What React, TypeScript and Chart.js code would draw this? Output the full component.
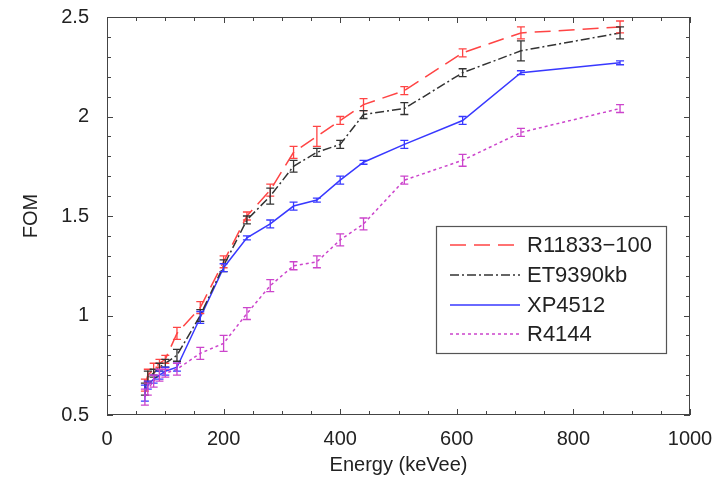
import React, { useEffect, useRef } from "react";
import { Chart, registerables } from "chart.js";

Chart.register(...registerables);

const energies = [65, 70, 80, 90, 100, 120, 160, 200, 240, 280, 320, 360, 400, 440, 510, 610, 710, 880];

const fomR11833 = [0.65, 0.70, 0.73, 0.76, 0.78, 0.91, 1.04, 1.27, 1.50, 1.63, 1.82, 1.90, 1.98, 2.06, 2.13, 2.32, 2.42, 2.45];
const errR11833 = [0.03, 0.03, 0.03, 0.02, 0.02, 0.03, 0.03, 0.03, 0.02, 0.03, 0.03, 0.05, 0.02, 0.03, 0.02, 0.02, 0.03, 0.03];

const fomET9390 = [0.63, 0.69, 0.71, 0.74, 0.76, 0.80, 1.00, 1.25, 1.48, 1.60, 1.75, 1.82, 1.86, 2.01, 2.04, 2.22, 2.33, 2.42];
const errET9390 = [0.03, 0.03, 0.02, 0.02, 0.02, 0.03, 0.03, 0.03, 0.02, 0.04, 0.03, 0.02, 0.02, 0.02, 0.03, 0.02, 0.05, 0.03];

const fomXP4512 = [0.61, 0.65, 0.68, 0.70, 0.72, 0.74, 0.99, 1.24, 1.39, 1.46, 1.55, 1.58, 1.68, 1.77, 1.86, 1.98, 2.22, 2.27];
const errXP4512 = [0.04, 0.02, 0.02, 0.02, 0.02, 0.02, 0.03, 0.02, 0.01, 0.02, 0.02, 0.01, 0.02, 0.01, 0.02, 0.02, 0.01, 0.01];

const fomR4144 = [0.59, 0.63, 0.67, 0.70, 0.71, 0.73, 0.81, 0.86, 1.01, 1.15, 1.25, 1.27, 1.38, 1.46, 1.68, 1.78, 1.92, 2.04];
const errR4144 = [0.04, 0.03, 0.03, 0.03, 0.02, 0.03, 0.03, 0.04, 0.03, 0.03, 0.02, 0.03, 0.03, 0.03, 0.02, 0.03, 0.02, 0.02];

const seriesNames = ["R11833−100", "ET9390kb", "XP4512", "R4144"];
const seriesColors = ["#ff4444", "#333333", "#3838ff", "#cc44cc"];
const seriesDashes = [[16, 8], [9, 3, 2, 3], [], [3, 3]];

const xTicks = [0, 200, 400, 600, 800, 1000];
const yTicks = [0.5, 1, 1.5, 2, 2.5];

const FONT = "'Liberation Sans', Arial, sans-serif";

const decorPlugin = {
  id: "decor",
  afterDatasetsDraw(chart: any) {
    const ctx = chart.ctx;
    const errs = [errR11833, errET9390, errXP4512, errR4144];
    const xs = chart.scales.x;
    const ys = chart.scales.y;
    chart.data.datasets.forEach((ds: any, di: number) => {
      ctx.save();
      ctx.strokeStyle = seriesColors[di];
      ctx.lineWidth = 1.3;
      ctx.setLineDash([]);
      ds.data.forEach((p: any, i: number) => {
        const px = xs.getPixelForValue(p.x);
        const y1 = ys.getPixelForValue(p.y - errs[di][i]);
        const y2 = ys.getPixelForValue(p.y + errs[di][i]);
        ctx.beginPath();
        ctx.moveTo(px, y1);
        ctx.lineTo(px, y2);
        ctx.moveTo(px - 4, y1);
        ctx.lineTo(px + 4, y1);
        ctx.moveTo(px - 4, y2);
        ctx.lineTo(px + 4, y2);
        ctx.stroke();
      });
      ctx.restore();
    });
  },
  afterDraw(chart: any) {
    const ctx = chart.ctx;
    const { left, right, top, bottom } = chart.chartArea;
    const xs = chart.scales.x;
    const ys = chart.scales.y;
    ctx.save();
    ctx.strokeStyle = "#444";
    ctx.lineWidth = 1;
    ctx.setLineDash([]);
    ctx.strokeRect(left + 0.5, top + 0.5, right - left - 1, bottom - top - 1);
    ctx.beginPath();
    for (let v = 0; v <= 1000; v += 50) {
      const px = Math.round(xs.getPixelForValue(v)) + 0.5;
      const len = v % 200 === 0 ? 6 : 4;
      ctx.moveTo(px, bottom);
      ctx.lineTo(px, bottom - len);
      ctx.moveTo(px, top);
      ctx.lineTo(px, top + len);
    }
    for (let k = 5; k <= 25; k++) {
      const v = k / 10;
      const py = Math.round(ys.getPixelForValue(v)) + 0.5;
      const len = k % 5 === 0 ? 6 : 4;
      ctx.moveTo(left, py);
      ctx.lineTo(left + len, py);
      ctx.moveTo(right, py);
      ctx.lineTo(right - len, py);
    }
    ctx.stroke();

    // legend box
    const bx = 436, by = 226, bw = 230, bh = 127;
    ctx.fillStyle = "#fff";
    ctx.fillRect(bx, by, bw, bh);
    ctx.strokeStyle = "#555";
    ctx.lineWidth = 1.2;
    ctx.strokeRect(bx + 0.5, by + 0.5, bw, bh);
    const rows = [245, 275, 305, 334];
    ctx.font = "22px " + FONT;
    ctx.textBaseline = "middle";
    ctx.textAlign = "left";
    seriesNames.forEach((name, i) => {
      ctx.strokeStyle = seriesColors[i];
      ctx.lineWidth = 1.5;
      ctx.setLineDash(seriesDashes[i]);
      ctx.beginPath();
      ctx.moveTo(450, rows[i]);
      ctx.lineTo(520, rows[i]);
      ctx.stroke();
      ctx.setLineDash([]);
      ctx.fillStyle = "#222";
      ctx.fillText(name, 527, rows[i] + 1);
    });
    ctx.restore();
  },
};

export default function App() {
  const ref = useRef<HTMLCanvasElement | null>(null);
  useEffect(() => {
    if (!ref.current) return;
    const all = [fomR11833, fomET9390, fomXP4512, fomR4144];
    const chart = new Chart(ref.current, {
      type: "line",
      data: {
        datasets: all.map((vals, i) => ({
          label: seriesNames[i],
          data: energies.map((e, j) => ({ x: e, y: vals[j] })),
          borderColor: seriesColors[i],
          backgroundColor: seriesColors[i],
          borderWidth: 1.5,
          borderDash: seriesDashes[i],
          pointRadius: 0,
          tension: 0,
          fill: false,
        })),
      },
      options: {
        animation: false,
        responsive: false,
        layout: { padding: { left: 0, right: 36, top: 17, bottom: 0 } },
        plugins: { legend: { display: false }, tooltip: { enabled: false } },
        scales: {
          x: {
            type: "linear",
            min: 0,
            max: 1000,
            afterBuildTicks: (s: any) => { s.ticks = xTicks.map((v) => ({ value: v })); },
            afterFit: (s: any) => { s.height = 70; s.paddingLeft = 0; s.paddingRight = 0; },
            ticks: { color: "#222", font: { size: 20, family: FONT }, padding: 4, maxRotation: 0, callback: (v: any) => String(v) },
            grid: { display: false },
            border: { display: false },
            title: { display: true, text: "Energy (keVee)", color: "#222", font: { size: 20, family: FONT }, padding: { top: 0, bottom: 8 } },
          },
          y: {
            type: "linear",
            min: 0.5,
            max: 2.5,
            afterBuildTicks: (s: any) => { s.ticks = yTicks.map((v) => ({ value: v })); },
            afterFit: (s: any) => { s.width = 107; s.paddingTop = 0; s.paddingBottom = 0; },
            ticks: { color: "#222", font: { size: 20, family: FONT }, padding: 10, callback: (v: any) => String(v) },
            grid: { display: false },
            border: { display: false },
            title: { display: true, text: "FOM", color: "#222", font: { size: 20, family: FONT }, padding: { top: 19, bottom: 0 } },
          },
        },
      },
      plugins: [decorPlugin],
    } as any);
    return () => chart.destroy();
  }, []);
  return (
    <div style={{ position: "absolute", left: 0, top: 0, width: 726, height: 485, background: "#fff" }}>
      <canvas ref={ref} width={726} height={485} />
    </div>
  );
}
